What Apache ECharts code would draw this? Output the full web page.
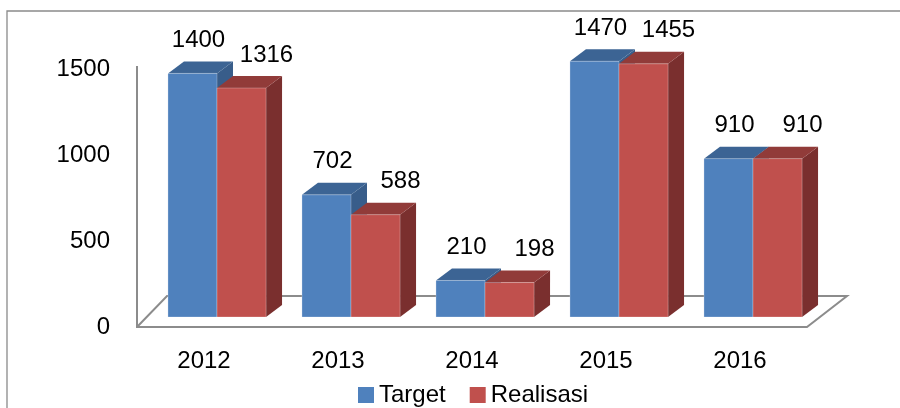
<!DOCTYPE html>
<html>
<head>
<meta charset="utf-8">
<style>
  html, body { margin: 0; padding: 0; background: #fff; }
  #chart { width: 900px; height: 408px; }
</style>
<script src="https://cdn.jsdelivr.net/npm/echarts@6/dist/echarts.min.js"></script>
</head>
<body>
<div id="chart"></div>
<script>
const categories = ['2012', '2013', '2014', '2015', '2016'];
const targetValues = [1400, 702, 210, 1470, 910];
const realisasiValues = [1316, 588, 198, 1455, 910];
const yMin = 0;
const yMax = 1500;
const yStep = 500;

const FONT = 'Liberation Sans';
const DEPTH_X = 16;
const DEPTH_Y = 12;

const colors = {
    target: { front: '#4F81BD', top: '#3C6494', side: '#385D8A' },
    realisasi: { front: '#C0504D', top: '#913B39', side: '#7A2F2E' }
};

// 3d looking bar, side = -1 for left bar of the pair, 1 for right one
function makeRenderer(palette, side, labelShift) {
    return function (params, api) {
        const idx = api.value(0);
        const val = api.value(1);
        const base = api.coord([idx, 0]);
        const top = api.coord([idx, val]);
        const barW = api.size([1, 0])[0] * 0.366;
        const x0 = side < 0 ? base[0] - barW : base[0];
        const x1 = x0 + barW;
        const yb = base[1];
        const yt = top[1];
        return {
            type: 'group',
            children: [
                {
                    type: 'polygon',
                    shape: { points: [[x1, yb], [x1 + DEPTH_X, yb - DEPTH_Y], [x1 + DEPTH_X, yt - DEPTH_Y], [x1, yt]] },
                    style: { fill: palette.side }
                },
                {
                    type: 'polygon',
                    shape: { points: [[x0, yt], [x1, yt], [x1 + DEPTH_X, yt - DEPTH_Y], [x0 + DEPTH_X, yt - DEPTH_Y]] },
                    style: { fill: palette.top }
                },
                {
                    type: 'rect',
                    shape: { x: x0, y: yt, width: barW, height: yb - yt },
                    style: { fill: palette.front, stroke: 'rgba(255,255,255,0.25)', lineWidth: 1 }
                },
                {
                    type: 'text',
                    style: {
                        text: String(val),
                        x: (x0 + x1) / 2 + labelShift,
                        y: yt - 33,
                        align: 'center',
                        verticalAlign: 'middle',
                        font: '24px "' + FONT + '"',
                        fill: '#000'
                    }
                }
            ]
        };
    };
}

const chart = echarts.init(document.getElementById('chart'));

chart.setOption({
    animation: false,
    backgroundColor: '#fff',
    textStyle: { fontFamily: FONT },
    legend: {
        data: ['Target', 'Realisasi'],
        left: 353,
        top: 378,
        icon: 'rect',
        itemWidth: 16,
        itemHeight: 16,
        itemGap: 24,
        textStyle: { fontSize: 24, color: '#000', fontFamily: FONT }
    },
    graphic: [
        {
            type: 'rect',
            z: 0,
            shape: { x: 7, y: 11, width: 1000, height: 500 },
            style: { fill: 'none', stroke: '#8a8a8a', lineWidth: 1.3 }
        },
        {
            type: 'polyline',
            z: 0,
            shape: { points: [[137, 66], [137, 327], [807, 327], [847, 296], [167, 296], [137, 327]] },
            style: { fill: 'none', stroke: '#8c8c8c', lineWidth: 2 }
        }
    ],
    grid: [
        { left: 137, right: 93, top: 69, bottom: 81 },
        { left: 150, right: 80, top: 56, bottom: 91 }
    ],
    xAxis: [
        {
            gridIndex: 0,
            type: 'category',
            data: categories,
            axisLine: { show: false },
            axisTick: { show: false },
            axisLabel: { fontSize: 24, color: '#000', margin: 22, fontFamily: FONT }
        },
        {
            gridIndex: 1,
            type: 'category',
            data: categories,
            show: false
        }
    ],
    yAxis: [
        {
            gridIndex: 0,
            type: 'value',
            min: yMin,
            max: yMax,
            interval: yStep,
            axisLine: { show: false },
            axisTick: { show: false },
            splitLine: { show: false },
            axisLabel: {
                fontSize: 24,
                color: '#000',
                margin: 27,
                fontFamily: FONT,
                formatter: v => String(v)
            }
        },
        {
            gridIndex: 1,
            type: 'value',
            min: yMin,
            max: yMax,
            show: false,
            splitLine: { show: false }
        }
    ],
    series: [
        {
            name: 'Target',
            type: 'custom',
            xAxisIndex: 1,
            yAxisIndex: 1,
            itemStyle: { color: colors.target.front },
            renderItem: makeRenderer(colors.target, -1, 6),
            encode: { x: 0, y: 1 },
            data: categories.map((c, i) => [i, targetValues[i]])
        },
        {
            name: 'Realisasi',
            type: 'custom',
            xAxisIndex: 1,
            yAxisIndex: 1,
            itemStyle: { color: colors.realisasi.front },
            renderItem: makeRenderer(colors.realisasi, 1, 25),
            encode: { x: 0, y: 1 },
            data: categories.map((c, i) => [i, realisasiValues[i]])
        }
    ]
});
</script>
</body>
</html>
